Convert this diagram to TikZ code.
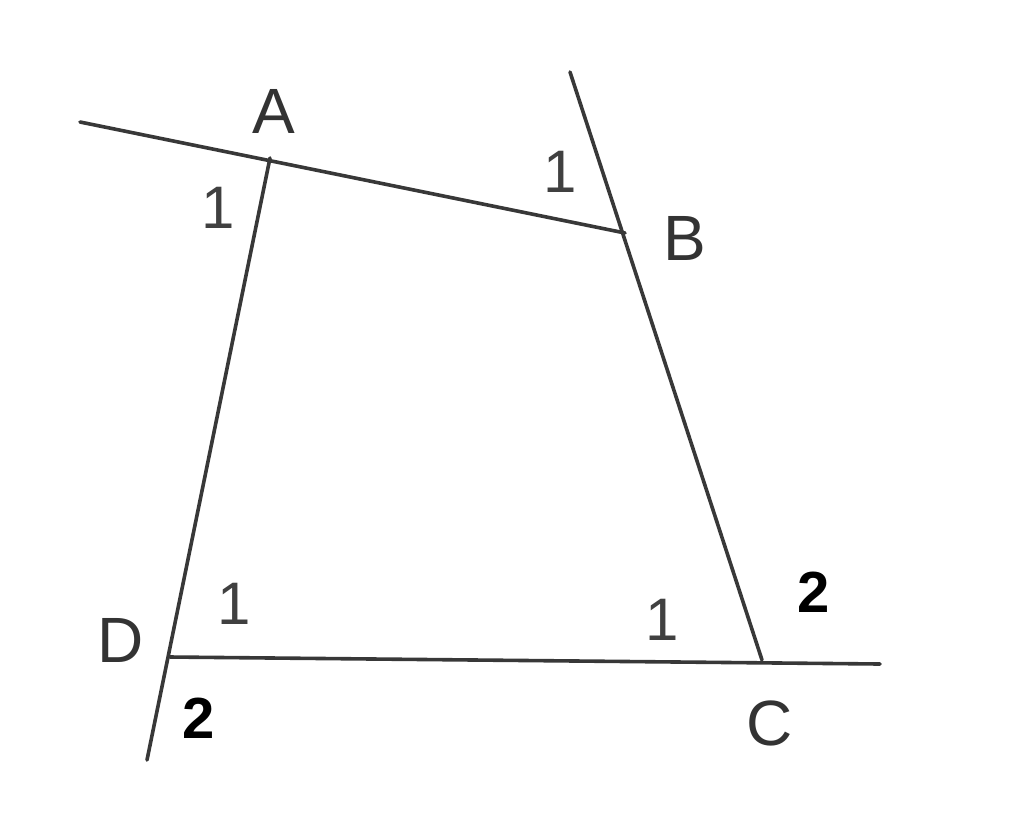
\documentclass[tikz,border=0pt]{standalone}
\usepackage{fontspec}
\setmainfont{Liberation Sans}
\begin{document}
\begin{tikzpicture}[x=1pt,y=-1pt,
  seg/.style={line width=3.6pt,draw=black!78,line cap=round},
  ptlabel/.style={text=black!80,font=\fontsize{64}{64}\selectfont,inner sep=0pt},
  anglone/.style={text=black!75,font=\fontsize{60}{60}\selectfont,inner sep=0pt},
  angltwo/.style={text=black,font=\bfseries\fontsize{58}{58}\selectfont,inner sep=0pt}]
\useasboundingbox[fill=white] (0,0) rectangle (1024,812);
% points
\coordinate (A) at (270,158);
\coordinate (B) at (625,233);
\coordinate (C) at (762,660);
\coordinate (D) at (170,657);
\coordinate (Lend) at (80,122);
\coordinate (Bend) at (570,72);
\coordinate (Dend) at (147,760);
\coordinate (Cend) at (880,664);
% lines
\draw[seg] (Lend) -- (B);
\draw[seg] (Bend) -- (C);
\draw[seg] (A) -- (Dend);
\draw[seg] (D) -- (Cend);
% point labels
\node[ptlabel] (la) at (274,111) {A};
\node[ptlabel] (lb) at (685,238) {B};
\node[ptlabel] (lc) at (770,723) {C};
\node[ptlabel] (ld) at (121,640) {D};
% angle labels
\node[anglone] (a1) at (218,208) {1};
\node[anglone] (b1) at (560,172) {1};
\node[anglone] (d1) at (234,604) {1};
\node[anglone] (c1) at (662,620) {1};
\node[angltwo] (d2) at (199,718) {2};
\node[angltwo] (c2) at (814,592) {2};
\end{tikzpicture}
\end{document}
